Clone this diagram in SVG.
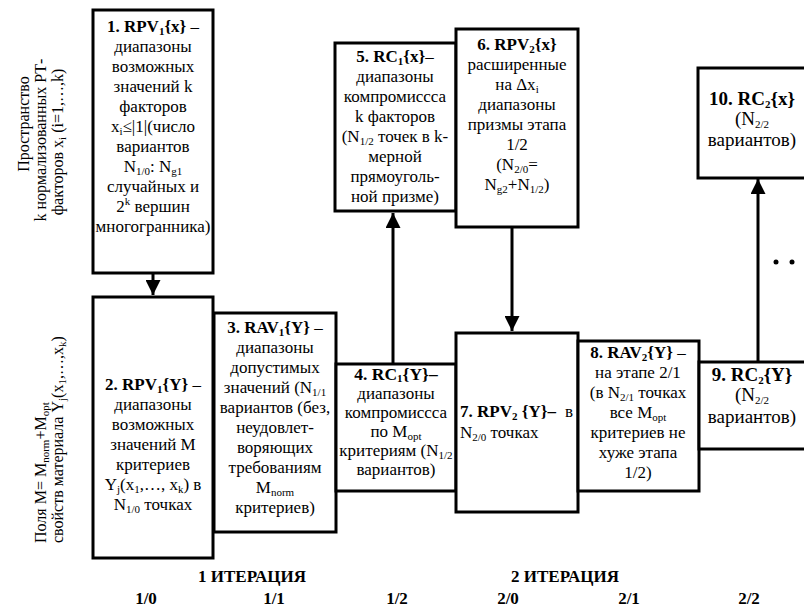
<svg xmlns="http://www.w3.org/2000/svg" width="804" height="608" viewBox="0 0 804 608" font-family="'Liberation Serif', 'Times New Roman', Tinos, 'DejaVu Serif', serif">
<defs>
<style>
text{font-family:'Liberation Serif','Times New Roman',Tinos,'DejaVu Serif',serif;font-size:17px;fill:#000}
.c{text-anchor:middle}
.b{font-weight:bold}
.s{font-size:11px}
.lg{font-size:19px}
.side{font-size:16px}
.box{fill:#fff;stroke:#000;stroke-width:3}
.ln{fill:none;stroke:#000;stroke-width:3}
</style>
<marker id="ah" markerWidth="5" markerHeight="5" refX="5" refY="2.5" orient="auto" markerUnits="strokeWidth">
<path d="M0,0 L5,2.5 L0,5 Z" fill="#000"/>
</marker>
</defs>
<rect width="804" height="608" fill="#fff"/>

<g id="labels-left">
<text class="side c" transform="translate(29,124) rotate(-90)">Пространство</text>
<text class="side c" transform="translate(46,140) rotate(-90)">k нормализованных РТ-</text>
<text class="side c" transform="translate(63,142) rotate(-90)">факторов x<tspan class="s" dy="3">i</tspan><tspan dy="-3"> (i=1,…,k)</tspan></text>
<text class="side" transform="translate(46,543) rotate(-90)">Поля M= M<tspan class="s" dy="3">norm</tspan><tspan dy="-3">+M</tspan><tspan class="s" dy="3">opt</tspan></text>
<text class="side" transform="translate(63,543) rotate(-90)">свойств материала Y<tspan class="s" dy="3">j</tspan><tspan dy="-3">(x</tspan><tspan class="s" dy="3">1</tspan><tspan dy="-3">,…,x</tspan><tspan class="s" dy="3">k</tspan><tspan dy="-3">)</tspan></text>
</g>

<g id="connectors">
<line class="ln" x1="153" y1="273" x2="153" y2="295" marker-end="url(#ah)"/>
<line class="ln" x1="393" y1="364" x2="393" y2="213" marker-end="url(#ah)"/>
<line class="ln" x1="512" y1="227" x2="512" y2="331" marker-end="url(#ah)"/>
<line class="ln" x1="758" y1="362" x2="758" y2="179" marker-end="url(#ah)"/>
</g>

<g id="n1">
<rect class="box" x="93" y="10" width="120" height="263"/>
<text class="c" x="153" y="32"><tspan class="b">1. RPV</tspan><tspan class="b s" dy="3">1</tspan><tspan class="b" dy="-3">{x}</tspan> –</text>
<text class="c" x="153" y="52">диапазоны</text>
<text class="c" x="153" y="72">возможных</text>
<text class="c" x="153" y="92">значений k</text>
<text class="c" x="153" y="112">факторов</text>
<text class="c" x="153" y="132">x<tspan class="s" dy="3">i</tspan><tspan dy="-3">≤|1|(число</tspan></text>
<text class="c" x="153" y="152">вариантов</text>
<text class="c" x="153" y="172">N<tspan class="s" dy="3">1/0</tspan><tspan dy="-3">: N</tspan><tspan class="s" dy="3">g1</tspan></text>
<text class="c" x="153" y="192">случайных и</text>
<text class="c" x="153" y="212">2<tspan class="s" dy="-7">k</tspan><tspan dy="7"> вершин</tspan></text>
<text class="c" x="153" y="232">многогранника)</text>
</g>

<g id="n2">
<rect class="box" x="93" y="297" width="120" height="261"/>
<text class="c" x="153" y="390"><tspan class="b">2. RPV</tspan><tspan class="b s" dy="3">1</tspan><tspan class="b" dy="-3">{Y}</tspan> –</text>
<text class="c" x="153" y="410">диапазоны</text>
<text class="c" x="153" y="430">возможных</text>
<text class="c" x="153" y="450">значений M</text>
<text class="c" x="153" y="470">критериев</text>
<text class="c" x="153" y="490">Y<tspan class="s" dy="3">j</tspan><tspan dy="-3">(x</tspan><tspan class="s" dy="3">1</tspan><tspan dy="-3">,…, x</tspan><tspan class="s" dy="3">k</tspan><tspan dy="-3">) в</tspan></text>
<text class="c" x="153" y="510">N<tspan class="s" dy="3">1/0</tspan><tspan dy="-3"> точках</tspan></text>
</g>

<g id="n3">
<rect class="box" x="214" y="313" width="122" height="219"/>
<text class="c" x="275" y="333"><tspan class="b">3. RAV</tspan><tspan class="b s" dy="3">1</tspan><tspan class="b" dy="-3">{Y}</tspan> –</text>
<text class="c" x="275" y="353">диапазоны</text>
<text class="c" x="275" y="373">допустимых</text>
<text class="c" x="275" y="393">значений (N<tspan class="s" dy="3">1/1</tspan></text>
<text class="c" x="275" y="413">вариантов (без,</text>
<text class="c" x="275" y="433">неудовлет-</text>
<text class="c" x="275" y="453">воряющих</text>
<text class="c" x="275" y="473">требованиям</text>
<text class="c" x="275" y="493">M<tspan class="s" dy="3">norm</tspan></text>
<text class="c" x="275" y="513">критериев)</text>
</g>

<g id="n4">
<rect class="box" x="336" y="364" width="120" height="127"/>
<text class="c" x="396" y="380"><tspan class="b" style="font-size:17.5px">4. RC</tspan><tspan class="b s" dy="2">1</tspan><tspan class="b" style="font-size:17.5px" dy="-2">{Y}–</tspan></text>
<text class="c" x="396" y="399">диапазоны</text>
<text class="c" x="396" y="418">компромиссса</text>
<text class="c" x="396" y="437">по M<tspan class="s" dy="3">opt</tspan></text>
<text class="c" x="396" y="456">критериям (N<tspan class="s" dy="3">1/2</tspan></text>
<text class="c" x="396" y="475">вариантов)</text>
</g>

<g id="n5">
<rect class="box" x="335" y="43" width="121" height="168"/>
<text class="c" x="395" y="62"><tspan class="b">5. RC</tspan><tspan class="b s" dy="3">1</tspan><tspan class="b" dy="-3">{x}</tspan>–</text>
<text class="c" x="395" y="82">диапазоны</text>
<text class="c" x="395" y="102">компромиссса</text>
<text class="c" x="395" y="122">k факторов</text>
<text class="c" x="395" y="142">(N<tspan class="s" dy="3">1/2</tspan><tspan dy="-3"> точек в k-</tspan></text>
<text class="c" x="395" y="162">мерной</text>
<text class="c" x="395" y="182">прямоуголь-</text>
<text class="c" x="395" y="202">ной призме)</text>
</g>

<g id="n6">
<rect class="box" x="456" y="29" width="122" height="198"/>
<text class="c" x="517" y="50"><tspan class="b">6.  RPV</tspan><tspan class="b s" dy="3">2</tspan><tspan class="b" dy="-3">{x}</tspan></text>
<text class="c" x="517" y="70">расширенные</text>
<text class="c" x="517" y="90">на Δx<tspan class="s" dy="3">i</tspan></text>
<text class="c" x="517" y="110">диапазоны</text>
<text class="c" x="517" y="130">призмы этапа</text>
<text class="c" x="517" y="150">1/2</text>
<text class="c" x="517" y="170">(N<tspan class="s" dy="3">2/0</tspan><tspan dy="-3">=</tspan></text>
<text class="c" x="517" y="190">N<tspan class="s" dy="3">g2</tspan><tspan dy="-3">+N</tspan><tspan class="s" dy="3">1/2</tspan><tspan dy="-3">)</tspan></text>
</g>

<g id="n7">
<rect class="box" x="456" y="333" width="122" height="179"/>
<text x="460" y="417"><tspan class="b">7. RPV</tspan><tspan class="b s" dy="3">2</tspan><tspan class="b" dy="-3"> {Y}–</tspan></text>
<text x="573" y="417" style="text-anchor:end">в</text>
<text x="460" y="438">N<tspan class="s" dy="3">2/0</tspan><tspan dy="-3"> точках</tspan></text>
</g>

<g id="n8">
<rect class="box" x="578" y="341" width="121" height="150"/>
<text class="c" x="638" y="358"><tspan class="b">8. RAV</tspan><tspan class="b s" dy="3">2</tspan><tspan class="b" dy="-3">{Y}</tspan> –</text>
<text class="c" x="638" y="378">на этапе 2/1</text>
<text class="c" x="638" y="398">(в  N<tspan class="s" dy="3">2/1</tspan><tspan dy="-3"> точках</tspan></text>
<text class="c" x="638" y="418">все  M<tspan class="s" dy="3">opt</tspan></text>
<text class="c" x="638" y="438">критериев не</text>
<text class="c" x="638" y="458">хуже этапа</text>
<text class="c" x="638" y="478">1/2)</text>
</g>

<g id="n9">
<rect class="box" x="699" y="362" width="110" height="87"/>
<text class="c lg" x="752" y="381"><tspan class="b">9. RC</tspan><tspan class="b s" dy="3">2</tspan><tspan class="b" dy="-3">{Y}</tspan></text>
<text class="c lg" x="752" y="401">(N<tspan class="s" dy="3">2/2</tspan></text>
<text class="c lg" x="752" y="423">вариантов)</text>
</g>

<g id="n10">
<rect class="box" x="698" y="68" width="111" height="110"/>
<text class="c lg" x="752" y="105"><tspan class="b">10. RC</tspan><tspan class="b s" dy="3">2</tspan><tspan class="b" dy="-3">{x}</tspan></text>
<text class="c lg" x="752" y="125">(N<tspan class="s" dy="3">2/2</tspan></text>
<text class="c lg" x="752" y="146">вариантов)</text>
</g>

<g id="dots">
<circle cx="776" cy="262" r="2.5"/>
<circle cx="792" cy="262" r="2.5"/>
</g>

<g id="axis">
<text class="c b" x="252" y="582">1 ИТЕРАЦИЯ</text>
<text class="c b" x="565" y="582">2 ИТЕРАЦИЯ</text>
<text class="c b" x="146" y="604">1/0</text>
<text class="c b" x="274" y="604">1/1</text>
<text class="c b" x="397" y="604">1/2</text>
<text class="c b" x="508" y="604">2/0</text>
<text class="c b" x="629" y="604">2/1</text>
<text class="c b" x="749" y="604">2/2</text>
</g>
</svg>
